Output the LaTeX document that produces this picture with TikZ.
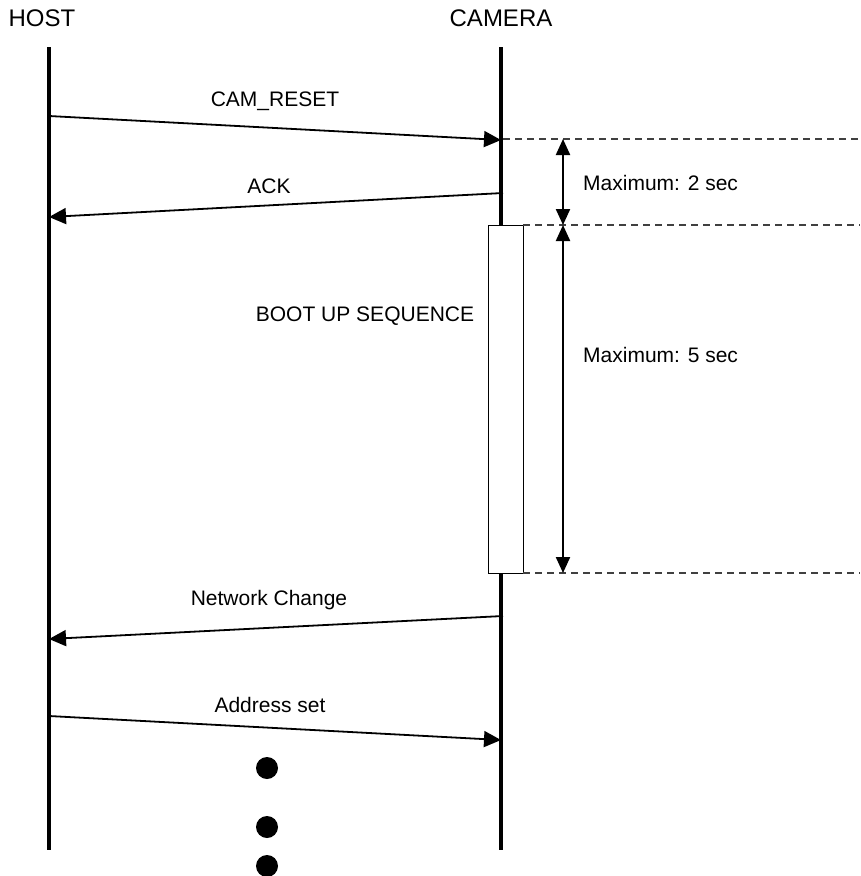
\documentclass[tikz,border=0pt]{standalone}
\usepackage{fontspec}
\setmainfont{Liberation Sans}
\usetikzlibrary{arrows.meta}
\begin{document}
\begin{tikzpicture}[x=1pt,y=-1pt,
  head/.style={font=\fontsize{24}{28}\selectfont,inner sep=0pt},
  lbl/.style={font=\fontsize{21}{25}\selectfont,inner sep=0pt},
  life/.style={line width=4pt},
  msg/.style={line width=1.8pt,-{Triangle[length=17pt,width=16pt]}},
  dim/.style={line width=2.2pt,{Triangle[length=16pt,width=14pt]}-{Triangle[length=16pt,width=14pt]}},
  guide/.style={line width=1.3pt,dash pattern=on 7pt off 5pt,draw=black!75},
  dot/.style={circle,fill=black,minimum size=22pt,inner sep=0pt}]
\useasboundingbox (0,0) rectangle (860,876);
% headers
\node[head] (host) at (42,18) {HOST};
\node[head] (cam) at (501,18) {CAMERA};
% lifelines
\coordinate (h0) at (49,47); \coordinate (h1) at (49,850);
\coordinate (c0) at (501,47); \coordinate (c1) at (501,225);
\coordinate (c2) at (501,573); \coordinate (c3) at (501,850);
\draw[life] (h0) -- (h1);
\draw[life] (c0) -- (c1);
\draw[life] (c2) -- (c3);
% boot box
\node[draw,line width=1pt,minimum width=35pt,minimum height=348pt,inner sep=0pt] (box) at (505.5,399) {};
\node[lbl] (boot) at (365,316) {BOOT UP SEQUENCE};
% messages
\coordinate (m1a) at (49,116); \coordinate (m1b) at (501,140);
\draw[msg] (m1a) -- (m1b);
\node[lbl] (l1) at (275,101) {CAM\_RESET};
\coordinate (m2a) at (503,193); \coordinate (m2b) at (49,217);
\draw[msg] (m2a) -- (m2b);
\node[lbl] (l2) at (269,186) {ACK};
\coordinate (m3a) at (503,616); \coordinate (m3b) at (49,639);
\draw[msg] (m3a) -- (m3b);
\node[lbl] (l3) at (269,600) {Network Change};
\coordinate (m4a) at (49,716); \coordinate (m4b) at (501,740);
\draw[msg] (m4a) -- (m4b);
\node[lbl] (l4) at (270,705) {Address set};
% guides
\coordinate (g1a) at (503,139); \coordinate (g1b) at (860,139);
\coordinate (g2a) at (523,225); \coordinate (g2b) at (860,225);
\coordinate (g3a) at (523,573); \coordinate (g3b) at (860,573);
\draw[guide] (g1a) -- (g1b);
\draw[guide] (g2a) -- (g2b);
\draw[guide] (g3a) -- (g3b);
% dimensions
\coordinate (d1a) at (563,139); \coordinate (d1b) at (563,225);
\coordinate (d2b) at (563,573);
\draw[dim] (d1a) -- (d1b);
\draw[dim] (d1b) -- (d2b);
\node[lbl,anchor=west] (t1) at (583,183) {Maximum: 2 sec};
\node[lbl,anchor=west] (t2) at (583,355) {Maximum: 5 sec};
% dots
\node[dot] (p1) at (267,768) {};
\node[dot] (p2) at (267,827) {};
\node[dot] (p3) at (267,866) {};
\end{tikzpicture}
\end{document}
